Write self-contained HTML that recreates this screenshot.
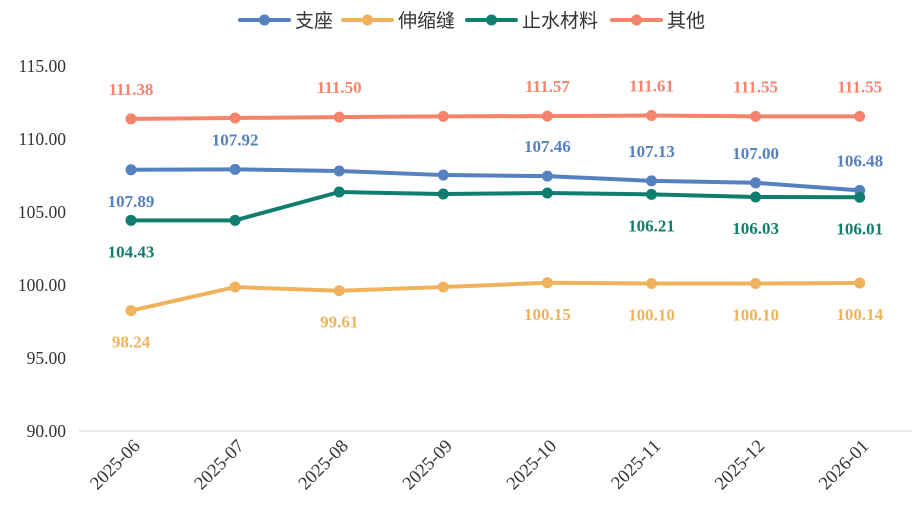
<!DOCTYPE html>
<html><head><meta charset="utf-8"><style>
body{margin:0;background:#fff;}
svg text{font-family:"Liberation Serif","Noto Serif CJK SC",serif;}
</style></head><body>
<svg id="chart" width="914" height="518">
<g id="legend"></g>
<g id="yaxis"></g>
<g id="xaxis"></g>
<g id="series"></g>
</svg>
<script>
const categories=["2025-06","2025-07","2025-08","2025-09","2025-10","2025-11","2025-12","2026-01"];
const seriesNames=["支座","伸缩缝","止水材料","其他"];
const bearing=[107.89,107.92,107.81,107.53,107.46,107.13,107.00,106.48];
const joint=[98.24,99.86,99.61,99.86,100.15,100.10,100.10,100.14];
const water=[104.43,104.43,106.37,106.23,106.30,106.21,106.03,106.01];
const other=[111.38,111.44,111.50,111.55,111.57,111.61,111.55,111.55];
const yTicks=[90,95,100,105,110,115];
const colors=["#5581C1","#F0B35B","#0F7E6F","#F4846C"];
const labelPos=[[-1,1,0,0,1,1,1,1],[-1,0,-1,0,-1,-1,-1,-1],[-1,0,0,0,0,-1,-1,-1],[1,0,1,0,1,1,1,1]];
const NS="http://www.w3.org/2000/svg";
const x0=131,dx=104.1,yTop=66,yBot=431,yMin=90,yMax=115;
const X=i=>x0+i*dx;
const Y=v=>yBot-(v-yMin)/(yMax-yMin)*(yBot-yTop);
function mk(tag,attrs,parent,txt){const e=document.createElementNS(NS,tag);for(const k in attrs)e.setAttribute(k,attrs[k]);if(txt!==undefined)e.textContent=txt;parent.appendChild(e);return e;}
const ya=document.getElementById('yaxis'),xa=document.getElementById('xaxis'),sg=document.getElementById('series'),lg=document.getElementById('legend');
yTicks.forEach(t=>{const e=mk('text',{x:66,y:Y(t)+6,'text-anchor':'end','font-size':17.5,fill:'#333'},ya,t.toFixed(2));

});
const ax=mk('line',{x1:79,x2:912,y1:yBot,y2:yBot,stroke:'#d0d0d0','stroke-width':1},xa);


categories.forEach((c,i)=>{const e=mk('text',{x:X(i)+10,y:yBot+16,'text-anchor':'end','font-size':18.5,fill:'#333',transform:`rotate(-45 ${X(i)+10} ${yBot+16})`},xa,c);

});
const data=[bearing,joint,water,other];
const order=[1,0,2,3];
order.forEach(s=>{const vals=data[s];const g=mk('g',{},sg);


const pl=mk('polyline',{points:vals.map((v,i)=>X(i)+','+Y(v)).join(' '),fill:'none',stroke:colors[s],'stroke-width':4,'stroke-linejoin':'round'},g);


vals.forEach((v,i)=>{const c=mk('circle',{cx:X(i),cy:Y(v),r:5.5,fill:colors[s]},g);


const p=labelPos[s][i];if(p){const t=mk('text',{x:X(i),y:Y(v)+(p>0?-24:37),'text-anchor':'middle','font-size':17,'font-weight':'bold',fill:colors[s]},g,v.toFixed(2));

}});});
const legX=[240,343,467,612];
seriesNames.forEach((n,i)=>{const lx=legX[i];const g=mk('g',{},lg);


mk('line',{x1:lx,x2:lx+49,y1:20,y2:20,stroke:colors[i],'stroke-width':4,'stroke-linecap':'round'},g);
mk('circle',{cx:lx+24.5,cy:20,r:5.5,fill:colors[i]},g);
const t=mk('text',{x:lx+55,y:27,'font-size':19,fill:'#333'},g,n);t.style.fontFamily='"Liberation Sans","Noto Sans CJK SC",sans-serif';
});
</script>
</body></html>
